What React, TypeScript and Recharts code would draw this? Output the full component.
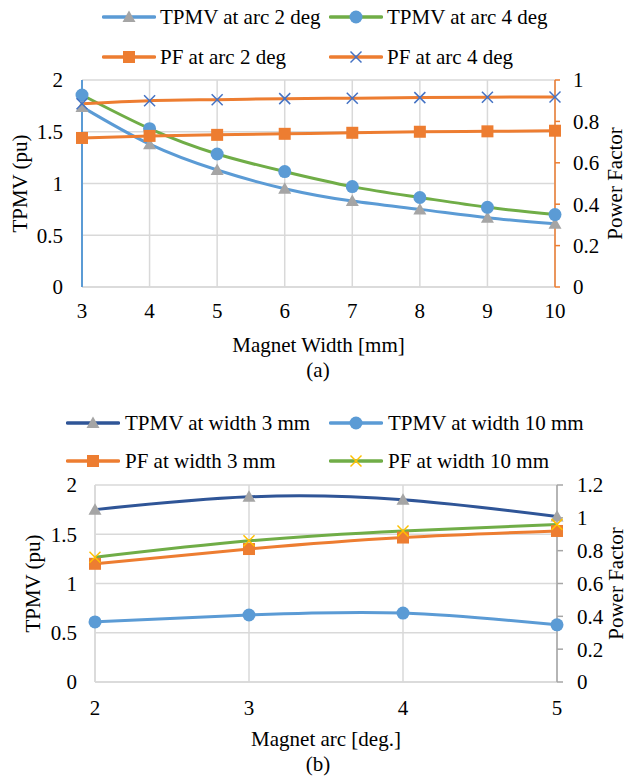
import { LineChart, Line, XAxis, YAxis, CartesianGrid } from 'recharts';

// (a) vs magnet width
const widthsMm = [3, 4, 5, 6, 7, 8, 9, 10];
const tpmvArc2 = [1.74, 1.38, 1.13, 0.95, 0.83, 0.75, 0.67, 0.61];
const tpmvArc4 = [1.855, 1.53, 1.285, 1.115, 0.97, 0.865, 0.77, 0.7];
const pfArc2 = [0.72, 0.73, 0.735, 0.74, 0.745, 0.75, 0.752, 0.755];
const pfArc4 = [0.885, 0.9, 0.905, 0.91, 0.912, 0.915, 0.917, 0.918];

// (b) vs magnet arc
const arcsDeg = [2, 3, 4, 5];
const tpmvW3 = [1.75, 1.88, 1.85, 1.68];
const tpmvW10 = [0.61, 0.68, 0.7, 0.58];
const pfW3 = [0.72, 0.81, 0.88, 0.92];
const pfW10 = [0.76, 0.86, 0.92, 0.96];

const puTicks = [0, 0.5, 1, 1.5, 2];
const pfTicksA = [0, 0.2, 0.4, 0.6, 0.8, 1];
const pfTicksB = [0, 0.2, 0.4, 0.6, 0.8, 1, 1.2];

const dataA = widthsMm.map((w, i) => ({ w, t2: tpmvArc2[i], t4: tpmvArc4[i], p2: pfArc2[i], p4: pfArc4[i] }));
const dataB = arcsDeg.map((a, i) => ({ a, t3: tpmvW3[i], t10: tpmvW10[i], p3: pfW3[i], p10: pfW10[i] }));

const FONT = '"Liberation Serif", "Times New Roman", serif';
const FS = 21;
const GRID = '#D9D9D9';

type Kind = 'tri' | 'circle' | 'square' | 'x';

const Marker = ({ kind, cx, cy, color }: { kind: Kind; cx: number; cy: number; color: string }) => {
  if (kind === 'tri') return <path d={`M${cx},${cy - 6.5}L${cx + 6.5},${cy + 5}L${cx - 6.5},${cy + 5}Z`} fill={color} />;
  if (kind === 'circle') return <circle cx={cx} cy={cy} r={6.5} fill={color} />;
  if (kind === 'square') return <rect x={cx - 6} y={cy - 6} width={12} height={12} fill={color} />;
  return (
    <g stroke={color} strokeWidth={1.5}>
      <line x1={cx - 5.5} y1={cy - 5.5} x2={cx + 5.5} y2={cy + 5.5} />
      <line x1={cx - 5.5} y1={cy + 5.5} x2={cx + 5.5} y2={cy - 5.5} />
    </g>
  );
};

const dot = (kind: Kind, color: string) => (p: any) => {
  if (p.cx == null || p.cy == null) return <g key={`e-${p.index}`} />;
  return (
    <g key={`m-${kind}-${p.index}`}>
      <Marker kind={kind} cx={p.cx} cy={p.cy} color={color} />
    </g>
  );
};

// rotated axis title; own prop names so recharts' injected x/y don't override them
const VTitle = ({ viewBox, title, posX, fallbackY }: any) => {
  const cy = viewBox && viewBox.height ? viewBox.y + viewBox.height / 2 : fallbackY;
  return (
    <text x={posX} y={cy} transform={`rotate(-90 ${posX} ${cy})`} textAnchor="middle" dominantBaseline="central"
      fontSize={FS} fontFamily={FONT} fill="#000">
      {title}
    </text>
  );
};

interface LegendItem { label: string; line: string; kind: Kind; mark: string; x: number; y: number; }

const LegendBox = ({ items, textGap }: { items: LegendItem[]; textGap: number }) => (
  <>
    {items.map(it => (
      <div key={it.label} style={{ position: 'absolute', left: it.x, top: it.y - 12, height: 24, display: 'flex', alignItems: 'center', whiteSpace: 'nowrap' }}>
        <svg width={54} height={20} style={{ display: 'block' }}>
          <line x1={1.5} y1={10} x2={52.5} y2={10} stroke={it.line} strokeWidth={3.5} strokeLinecap="round" />
          <Marker kind={it.kind} cx={27} cy={10} color={it.mark} />
        </svg>
        <span style={{ marginLeft: textGap, fontSize: FS, fontFamily: FONT, color: '#000', lineHeight: '24px' }}>{it.label}</span>
      </div>
    ))}
  </>
);

const legendA: LegendItem[] = [
  { label: 'TPMV at arc 2 deg', line: '#5B9BD5', kind: 'tri', mark: '#A5A5A5', x: 102, y: 17 },
  { label: 'TPMV at arc 4 deg', line: '#70AD47', kind: 'circle', mark: '#5B9BD5', x: 329, y: 17 },
  { label: 'PF at arc 2 deg', line: '#ED7D31', kind: 'square', mark: '#ED7D31', x: 102, y: 57 },
  { label: 'PF at arc 4 deg', line: '#ED7D31', kind: 'x', mark: '#4472C4', x: 329, y: 57 },
];

const legendB: LegendItem[] = [
  { label: 'TPMV at width 3 mm', line: '#2F5597', kind: 'tri', mark: '#A5A5A5', x: 66, y: 23 },
  { label: 'TPMV at width 10 mm', line: '#5B9BD5', kind: 'circle', mark: '#5B9BD5', x: 329, y: 23 },
  { label: 'PF at width 3 mm', line: '#ED7D31', kind: 'square', mark: '#ED7D31', x: 66, y: 61 },
  { label: 'PF at width 10 mm', line: '#70AD47', kind: 'x', mark: '#FFC000', x: 329, y: 61 },
];

const tickStyle = { fontSize: FS, fontFamily: FONT, fill: '#000' };

const Caption = ({ text, top }: { text: string; top: number }) => (
  <div style={{ position: 'absolute', left: 0, width: 636, top, textAlign: 'center', fontSize: FS, fontFamily: FONT, lineHeight: '21px', color: '#000' }}>
    {text}
  </div>
);

export default function App() {
  return (
    <div style={{ position: 'absolute', left: 0, top: 0, width: 629, height: 783, background: '#fff', overflow: 'hidden' }}>
      {/* (a) */}
      <div style={{ position: 'absolute', left: 0, top: 0, width: 629, height: 360 }}>
        <LineChart width={629} height={360} data={dataA} margin={{ top: 80, right: 0, bottom: 0, left: 0 }}>
          <CartesianGrid yAxisId="l" stroke={GRID} strokeWidth={1.5} />
          <XAxis dataKey="w" type="number" domain={[3, 10]} ticks={widthsMm} interval={0} height={73}
            axisLine={{ stroke: GRID, strokeWidth: 1.5 }} tickLine={false} tickSize={0} tickMargin={16} tick={tickStyle}
            label={{ value: 'Magnet Width [mm]', position: 'insideBottom', offset: 8, fontSize: FS, fontFamily: FONT, fill: '#000' }} />
          <YAxis yAxisId="l" domain={[0, 2]} ticks={puTicks} width={82}
            axisLine={{ stroke: '#5B9BD5', strokeWidth: 2 }} tickLine={false} tickSize={0} tickMargin={19} tick={tickStyle}
            label={<VTitle title="TPMV (pu)" posX={20} fallbackY={183} />} />
          <YAxis yAxisId="r" orientation="right" domain={[0, 1]} ticks={pfTicksA} width={74}
            axisLine={{ stroke: '#ED7D31', strokeWidth: 1.5 }} tickLine={{ stroke: '#ED7D31', strokeWidth: 1.5 }} tickSize={5} tickMargin={13} tick={tickStyle}
            label={<VTitle title="Power Factor" posX={615} fallbackY={183} />} />
          <Line yAxisId="l" type="natural" dataKey="t2" stroke="#5B9BD5" strokeWidth={3} dot={dot('tri', '#A5A5A5')} activeDot={false} isAnimationActive={false} />
          <Line yAxisId="l" type="natural" dataKey="t4" stroke="#70AD47" strokeWidth={3} dot={dot('circle', '#5B9BD5')} activeDot={false} isAnimationActive={false} />
          <Line yAxisId="r" type="natural" dataKey="p2" stroke="#ED7D31" strokeWidth={3} dot={dot('square', '#ED7D31')} activeDot={false} isAnimationActive={false} />
          <Line yAxisId="r" type="natural" dataKey="p4" stroke="#ED7D31" strokeWidth={3} dot={dot('x', '#4472C4')} activeDot={false} isAnimationActive={false} />
        </LineChart>
        <LegendBox items={legendA} textGap={4} />
      </div>
      <Caption text="(a)" top={360} />

      {/* (b) */}
      <div style={{ position: 'absolute', left: 0, top: 400, width: 629, height: 360 }}>
        <LineChart width={629} height={360} data={dataB} margin={{ top: 85, right: 0, bottom: 0, left: 0 }}>
          <CartesianGrid yAxisId="l" stroke={GRID} strokeWidth={1.5} />
          <XAxis dataKey="a" type="number" domain={[2, 5]} ticks={arcsDeg} interval={0} height={78}
            axisLine={{ stroke: GRID, strokeWidth: 1.5 }} tickLine={false} tickSize={0} tickMargin={18} tick={tickStyle}
            label={{ value: 'Magnet arc [deg.]', position: 'insideBottom', offset: 14, fontSize: FS, fontFamily: FONT, fill: '#000' }} />
          <YAxis yAxisId="l" domain={[0, 2]} ticks={puTicks} width={95}
            axisLine={{ stroke: GRID, strokeWidth: 1.5 }} tickLine={false} tickSize={0} tickMargin={18} tick={tickStyle}
            label={<VTitle title="TPMV (pu)" posX={33} fallbackY={183} />} />
          <YAxis yAxisId="r" orientation="right" domain={[0, 1.2]} ticks={pfTicksB} width={72}
            axisLine={{ stroke: '#A6A6A6', strokeWidth: 1.5 }} tickLine={{ stroke: '#A6A6A6', strokeWidth: 1.5 }} tickSize={6} tickMargin={14} tick={tickStyle}
            label={<VTitle title="Power Factor" posX={616} fallbackY={183} />} />
          <Line yAxisId="l" type="natural" dataKey="t3" stroke="#2F5597" strokeWidth={3} dot={dot('tri', '#A5A5A5')} activeDot={false} isAnimationActive={false} />
          <Line yAxisId="l" type="natural" dataKey="t10" stroke="#5B9BD5" strokeWidth={3} dot={dot('circle', '#5B9BD5')} activeDot={false} isAnimationActive={false} />
          <Line yAxisId="r" type="natural" dataKey="p3" stroke="#ED7D31" strokeWidth={3} dot={dot('square', '#ED7D31')} activeDot={false} isAnimationActive={false} />
          <Line yAxisId="r" type="natural" dataKey="p10" stroke="#70AD47" strokeWidth={3} dot={dot('x', '#FFC000')} activeDot={false} isAnimationActive={false} />
        </LineChart>
        <LegendBox items={legendB} textGap={5} />
      </div>
      <Caption text="(b)" top={754} />
    </div>
  );
}
